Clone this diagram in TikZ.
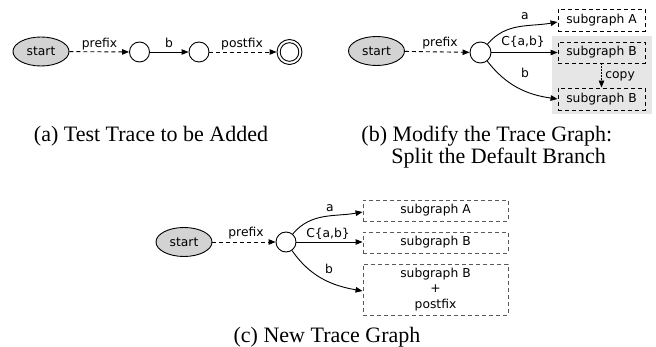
\documentclass[tikz,border=0pt]{standalone}
\usepackage{fontspec}
\setmainfont{Liberation Serif}
\newfontfamily\labfamily{DejaVu Sans}
\usetikzlibrary{arrows.meta,shapes.geometric}
\definecolor{startgray}{HTML}{D3D3D3}
\definecolor{bggray}{HTML}{E6E6E6}
\newcommand\labtxt{\labfamily\fontsize{12.3}{15.5}\selectfont}
\newcommand\captxt{\fontsize{22}{24}\selectfont}
\tikzset{
  startnode/.style={draw, ellipse, fill=startgray, minimum width=56pt, minimum height=29pt, inner sep=0pt, font=\labtxt},
  statenode/.style={draw, circle, minimum size=20pt, inner sep=0pt},
  lbl/.style={font=\labtxt, inner sep=0pt, anchor=base},
  arr/.style={-{Triangle[length=7pt,width=5.5pt]}},
  dashedge/.style={arr, dash pattern=on 4pt off 3pt},
  dotedge/.style={arr, dash pattern=on 1.2pt off 1.8pt},
  sgbox/.style={draw, dash pattern=on 4pt off 3pt, inner sep=0pt, font=\labtxt, align=center},
  captionnode/.style={font=\captxt, inner sep=0pt, anchor=base}
}
\begin{document}
\begin{tikzpicture}[x=1pt,y=1pt,line width=0.9pt]
\useasboundingbox (0,0) rectangle (656,-347);

% ---------- (a) ----------
\node[startnode] (sa) at (41,-51.5) {start};
\node[statenode] (a1) at (139.5,-52) {};
\node[statenode] (a2) at (199,-52) {};
\node[statenode, minimum size=25pt] (a3) at (289.5,-52) {};
\draw (a3.center) circle[radius=9.3pt];
\draw[dashedge] (sa) -- (a1);
\draw[arr] (a1) -- (a2);
\draw[dashedge] (a2) -- (a3);
\node[lbl] (la1) at (99.5,-47.5) {prefix};
\node[lbl] (la2) at (169,-48) {b};
\node[lbl] (la3) at (242,-47.5) {postfix};
\node[captionnode] (capa) at (151,-142) {(a) Test Trace to be Added};

% ---------- (b) ----------
\fill[bggray] (552,-36) rectangle (652,-114);
\node[startnode] (sb) at (376.5,-51) {start};
\node[statenode, minimum size=21pt] (cb) at (480.5,-52.5) {};
\node[sgbox, minimum width=87pt, minimum height=22pt] (bA) at (601.5,-20) {subgraph A};
\node[sgbox, minimum width=87pt, minimum height=21pt] (bB) at (601.5,-52.5) {subgraph B};
\node[sgbox, minimum width=87pt, minimum height=22pt] (bB2) at (601.5,-99) {subgraph B};
\draw[dashedge] (sb) -- (cb);
\draw[arr] (cb) to[out=50,in=190] ([yshift=-2pt]bA.west);
\draw[arr] (cb) -- (bB);
\draw[arr] (cb) to[out=-52,in=172] (bB2.west);
\draw[dotedge] (bB.south) -- (bB2.north);
\node[lbl] (lb1) at (440,-47) {prefix};
\node[lbl] (lb2) at (525,-20) {a};
\node[lbl] (lb3) at (523,-46) {C\{a,b\}};
\node[lbl] (lb4) at (525,-78) {b};
\node[lbl, anchor=base west] (lb5) at (605,-79) {copy};
\node[captionnode, anchor=base west] (capb1) at (361,-142) {(b) Modify the Trace Graph:};
\node[captionnode, anchor=base west] (capb2) at (391,-164) {Split the Default Branch};

% ---------- (c) ----------
\node[startnode] (sc) at (184,-242) {start};
\node[statenode] (cc) at (286,-242) {};
\node[sgbox, draw=black!65, minimum width=145pt, minimum height=21pt] (cA) at (435.5,-210.5) {subgraph A};
\node[sgbox, draw=black!65, minimum width=145pt, minimum height=21pt] (cB) at (435.5,-242.5) {subgraph B};
\node[sgbox, draw=black!65, minimum width=145pt, minimum height=51pt] (cC) at (435.5,-289.5) {subgraph B\\+\\postfix};
\draw[dashedge] (sc) -- (cc);
\draw[arr] (cc) to[out=50,in=190] ([yshift=-1.5pt]cA.west);
\draw[arr] (cc) -- ([yshift=0.5pt]cB.west);
\draw[arr] (cc) to[out=-55,in=170] ([yshift=-1.5pt]cC.west);
\node[lbl] (lc1) at (246,-237) {prefix};
\node[lbl] (lc2) at (330,-212) {a};
\node[lbl] (lc3) at (328,-238) {C\{a,b\}};
\node[lbl] (lc4) at (329,-274) {b};
\node[captionnode] (capc) at (327,-342) {(c) New Trace Graph};
\end{tikzpicture}
\end{document}
